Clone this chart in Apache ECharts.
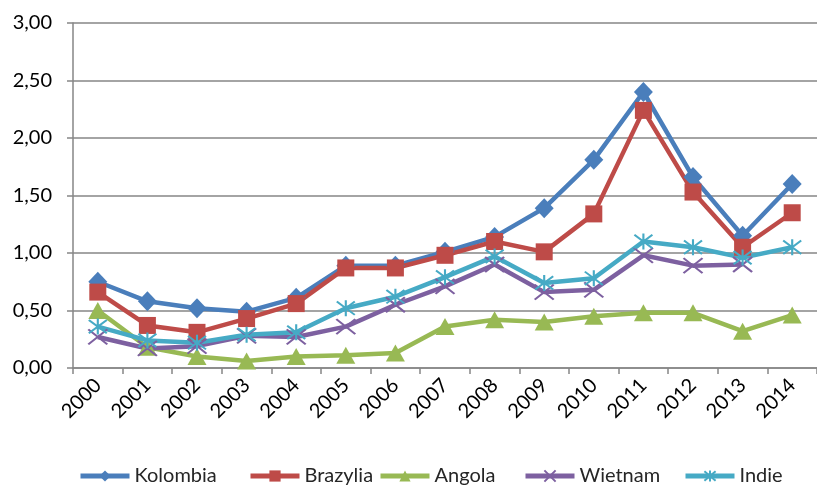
<!DOCTYPE html>
<html>
<head>
<meta charset="utf-8">
<script src="https://cdn.jsdelivr.net/npm/echarts@6/dist/echarts.min.js"></script>
<style>
html,body{margin:0;padding:0;background:#fff;}
#chart{width:817px;height:485px;}
</style>
</head>
<body>
<div id="chart"></div>
<script>
var years = ['2000','2001','2002','2003','2004','2005','2006','2007','2008','2009','2010','2011','2012','2013','2014'];
var kolombia = [0.75,0.58,0.52,0.49,0.61,0.89,0.89,1.01,1.14,1.39,1.81,2.40,1.66,1.15,1.60];
var brazylia = [0.66,0.37,0.31,0.43,0.56,0.87,0.87,0.98,1.10,1.01,1.34,2.24,1.53,1.05,1.35];
var angola   = [0.50,0.18,0.10,0.06,0.10,0.11,0.13,0.36,0.42,0.40,0.45,0.48,0.48,0.32,0.46];
var wietnam  = [0.27,0.17,0.19,0.28,0.27,0.36,0.55,0.71,0.90,0.66,0.68,0.98,0.89,0.90,null];
var indie    = [0.36,0.24,0.22,0.29,0.31,0.52,0.62,0.79,0.97,0.74,0.78,1.10,1.05,0.96,1.05];
var seriesNames = ['Kolombia','Brazylia','Angola','Wietnam','Indie'];
var yTicks = [0, 0.5, 1, 1.5, 2, 2.5, 3];

var FONT = 'Lato';
var colors = ['#4A7EBB','#BE4B48','#98B954','#7D60A0','#46AAC5'];
var symbols = [
  'diamond',
  'rect',
  'triangle',
  'path://M0,0L10,10M10,0L0,10',
  'path://M0,0L10,10M10,0L0,10M5,-1L5,11'
];
var symbolSizes = [[19,20],17,[19,17],[19,15],[18,16]];
var dataSets = [kolombia, brazylia, angola, wietnam, indie];
var legendLefts = [73, 243, 373, 518, 678];

var series = seriesNames.map(function(name, i){
  var isPath = i >= 3;
  return {
    name: name,
    type: 'line',
    data: dataSets[i],
    symbol: symbols[i],
    symbolSize: symbolSizes[i],
    showAllSymbol: true,
    connectNulls: false,
    lineStyle: { color: colors[i], width: 4.5 },
    itemStyle: isPath ? { color: colors[i], borderColor: colors[i], borderWidth: 2 } : { color: colors[i] },
    emphasis: { disabled: true },
    animation: false
  };
});

var legends = seriesNames.map(function(name, i){
  return {
    data: [name],
    left: legendLefts[i],
    top: 461,
    itemWidth: 49,
    itemHeight: 14,
    lineStyle: { width: 5 },
    textStyle: { fontFamily: FONT, fontSize: 20, color: '#262626' },
    selectedMode: false
  };
});

var chart = echarts.init(document.getElementById('chart'), null, {renderer: 'canvas'});
chart.setOption({
  animation: false,
  backgroundColor: '#ffffff',
  grid: { left: 73, right: -8, top: 23, bottom: 117, containLabel: false },
  legend: legends,
  xAxis: {
    type: 'category',
    data: years,
    boundaryGap: true,
    axisLine: { lineStyle: { color: '#868686', width: 1.5 } },
    axisTick: { show: true, length: 6, alignWithLabel: false, lineStyle: { color: '#868686', width: 1.5 } },
    axisLabel: { rotate: 45, margin: 14, interval: 0, fontFamily: FONT, fontSize: 20, color: '#000000' },
    splitLine: { show: false }
  },
  yAxis: {
    type: 'value',
    min: yTicks[0],
    max: yTicks[yTicks.length-1],
    interval: yTicks[1] - yTicks[0],
    axisLine: { show: true, lineStyle: { color: '#868686', width: 1.5 } },
    axisTick: { show: true, length: 6, lineStyle: { color: '#868686', width: 1.5 } },
    axisLabel: {
      margin: 21,
      fontFamily: FONT, fontSize: 20, color: '#000000',
      formatter: function(v){ return v.toFixed(2).replace('.', ','); }
    },
    splitLine: { show: true, lineStyle: { color: '#868686', width: 1.5 } }
  },
  series: series
});
</script>
</body>
</html>
